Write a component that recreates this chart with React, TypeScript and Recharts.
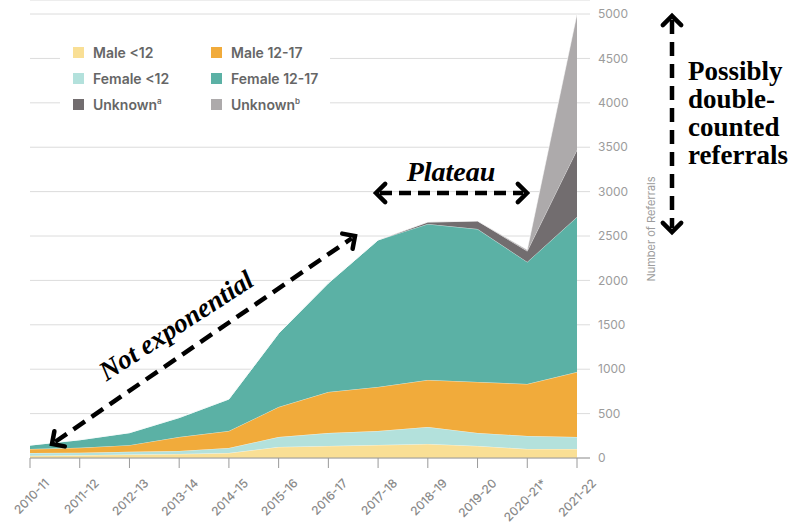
import { AreaChart, Area, XAxis, YAxis, CartesianGrid, Legend } from "recharts"

const years = [
  "2010-11", "2011-12", "2012-13", "2013-14", "2014-15", "2015-16",
  "2016-17", "2017-18", "2018-19", "2019-20", "2020-21*", "2021-22",
]

// referrals per year, stacked bottom to top
const maleUnder12 = [25, 30, 40, 45, 56, 124, 135, 146, 158, 135, 101, 101]
const femaleUnder12 = [30, 30, 30, 35, 57, 112, 146, 158, 191, 147, 147, 135]
const male12to17 = [45, 55, 75, 156, 191, 338, 462, 496, 529, 574, 585, 732]
const female12to17 = [45, 90, 140, 219, 360, 830, 1227, 1655, 1757, 1722, 1374, 1745]
const unknownA = [0, 0, 0, 0, 0, 0, 0, 0, 22, 91, 123, 757]
const unknownB = [0, 0, 0, 0, 0, 0, 0, 0, 0, 0, 15, 1530]

const yTicks = [0, 500, 1000, 1500, 2000, 2500, 3000, 3500, 4000, 4500, 5000]

const series = [
  { key: "maleUnder12", name: "Male <12", color: "#f9df95" },
  { key: "femaleUnder12", name: "Female <12", color: "#b3e1dc" },
  { key: "male12to17", name: "Male 12-17", color: "#f1ab3b" },
  { key: "female12to17", name: "Female 12-17", color: "#5bb1a5" },
  { key: "unknownA", name: "Unknown", sup: "a", color: "#726d6f" },
  { key: "unknownB", name: "Unknown", sup: "b", color: "#adaaab" },
]

const data = years.map((year, i) => ({
  year,
  maleUnder12: maleUnder12[i],
  femaleUnder12: femaleUnder12[i],
  male12to17: male12to17[i],
  female12to17: female12to17[i],
  unknownA: unknownA[i],
  unknownB: unknownB[i],
}))

const sans = "Inter, 'Open Sans', sans-serif"
const serif = "'Liberation Serif', 'DejaVu Serif', serif"

// legend shown in two columns: Male / Female / Unknown rows
const legendOrder = [0, 2, 1, 3, 4, 5]

function LegendBox() {
  return (
    <div
      style={{
        display: "grid",
        gridTemplateColumns: "138px 130px",
        gridAutoRows: "26px",
        background: "#fff",
        padding: "9px 0 8px 13px",
        fontFamily: sans,
        fontSize: 14,
        fontWeight: 600,
        color: "#666",
      }}
    >
      {legendOrder.map((idx) => {
        const s = series[idx]
        return (
          <div key={s.key} style={{ display: "flex", alignItems: "center", gap: 9 }}>
            <span style={{ width: 11, height: 11, background: s.color, display: "inline-block" }} />
            <span>
              {s.name}
              {s.sup && <sup style={{ fontSize: 8 }}>{s.sup}</sup>}
            </span>
          </div>
        )
      })}
    </div>
  )
}

function YearTick(props: any) {
  const { x, y, payload } = props
  return (
    <g transform={`translate(${x + 17},${y + 11})`}>
      <text
        textAnchor="end"
        transform="rotate(-45)"
        fontSize={12}
        fontWeight={500}
        fontFamily={sans}
        fill="#8a8a8a"
        dy="0.35em"
      >
        {payload.value}
      </text>
    </g>
  )
}

function DashedArrow({ x1, y1, x2, y2, dash = "14 8" }: any) {
  const ang = Math.atan2(y2 - y1, x2 - x1)
  const head = 13
  const spread = Math.PI / 4
  const tip = (x: number, y: number, a: number) => {
    const ax = x - head * Math.cos(a - spread)
    const ay = y - head * Math.sin(a - spread)
    const bx = x - head * Math.cos(a + spread)
    const by = y - head * Math.sin(a + spread)
    return `${ax},${ay} ${x},${y} ${bx},${by}`
  }
  const c = Math.cos(ang) * 4
  const s = Math.sin(ang) * 4
  return (
    <g stroke="#000" strokeWidth={4.5} fill="none">
      <line x1={x1 + c} y1={y1 + s} x2={x2 - c} y2={y2 - s} strokeDasharray={dash} />
      <polyline points={tip(x2, y2, ang)} strokeLinejoin="miter" strokeLinecap="round" />
      <polyline points={tip(x1, y1, ang + Math.PI)} strokeLinejoin="miter" strokeLinecap="round" />
    </g>
  )
}

function Annotations() {
  return (
    <svg
      width={804}
      height={525}
      style={{ position: "absolute", left: 0, top: 0, pointerEvents: "none" }}
    >
      <DashedArrow x1={52} y1={444} x2={355} y2={236} />
      <text
        transform="translate(181,333) rotate(-33)"
        textAnchor="middle"
        fontFamily={serif}
        fontStyle="italic"
        fontWeight="bold"
        fontSize={27}
      >
        Not exponential
      </text>

      <DashedArrow x1={376} y1={193} x2={527} y2={193} dash="12 7" />
      <text
        x={451}
        y={181}
        textAnchor="middle"
        fontFamily={serif}
        fontStyle="italic"
        fontWeight="bold"
        fontSize={28}
      >
        Plateau
      </text>

      <DashedArrow x1={672} y1={16} x2={672} y2={232} />
      <g fontFamily={serif} fontWeight="bold" fontSize={27}>
        <text x={688} y={80}>Possibly</text>
        <text x={688} y={108}>double-</text>
        <text x={688} y={136}>counted</text>
        <text x={688} y={164}>referrals</text>
      </g>
    </svg>
  )
}

export default function App() {
  return (
    <div style={{ position: "absolute", left: 0, top: 0, width: 804, height: 525, background: "#fff" }}>
      <AreaChart
        width={804}
        height={525}
        data={data}
        margin={{ top: 0, right: 144, bottom: 7, left: 30 }}
      >
        <CartesianGrid vertical={false} stroke="#dcdcdc" />
        <XAxis
          dataKey="year"
          interval={0}
          height={60}
          tickSize={10}
          tickMargin={2}
          padding={{ left: 0, right: 13 }}
          stroke="#9a9a9a"
          tick={<YearTick />}
        />
        <YAxis
          yAxisId="frame"
          orientation="left"
          width={0}
          domain={[0, 5158]}
          ticks={yTicks}
          tick={false}
          tickLine={false}
          stroke="#b0b0b0"
        />
        <YAxis
          orientation="right"
          width={70}
          domain={[0, 5158]}
          ticks={yTicks}
          axisLine={false}
          tickLine={false}
          tick={{ fontSize: 12, fill: "#9c9c9c", fontFamily: sans }}
          label={{
            value: "Number of Referrals",
            angle: -90,
            position: "insideRight",
            offset: 9,
            style: { fontSize: 11, fill: "#9c9c9c", fontFamily: sans, textAnchor: "middle" },
          }}
        />
        <Legend
          verticalAlign="middle"
          align="center"
          layout="horizontal"
          content={<LegendBox />}
          wrapperStyle={{ top: 30, left: 60, width: 270, height: "auto" }}
        />
        {series.map((s) => (
          <Area
            key={s.key}
            type="linear"
            dataKey={s.key}
            name={s.name}
            stackId="1"
            fill={s.color}
            fillOpacity={1}
            stroke="#ffffff"
            strokeOpacity={0.55}
            strokeWidth={1}
            isAnimationActive={false}
          />
        ))}
      </AreaChart>
      <Annotations />
    </div>
  )
}
